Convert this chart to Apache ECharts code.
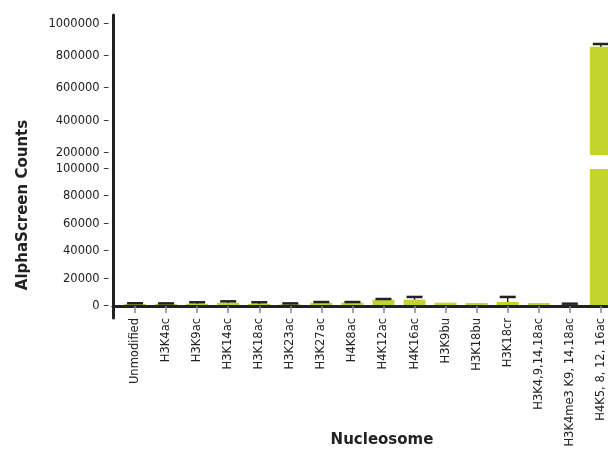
<!DOCTYPE html>
<html><head><meta charset="utf-8">
<script src="https://cdn.jsdelivr.net/npm/echarts@6/dist/echarts.min.js"></script>
<style>html,body{margin:0;padding:0;background:#fff}#c{width:608px;height:449px}</style>
</head><body><div id="c"></div>
<script>
const categories = ['Unmodified','H3K4ac','H3K9ac','H3K14ac','H3K18ac','H3K23ac','H3K27ac','H4K8ac','H4K12ac','H4K16ac','H3K9bu','H3K18bu','H3K18cr','H3K4,9,14,18ac','H3K4me3 K9, 14,18ac','H4K5, 8, 12, 16ac'];
const values = [1500, 1500, 1600, 2400, 1500, 1200, 2400, 2600, 4600, 4600, 2400, 2200, 2900, 2200, 900, 859000];
const errors = [500, 400, 1100, 1000, 1200, 700, 500, 300, 500, 2000, 0, 0, 3700, 0, 800, 17000];
const lowTicks = [0, 20000, 40000, 60000, 80000, 100000];
const highTicks = [200000, 400000, 600000, 800000, 1000000];
const BREAK_LOW = 100000;

const FONT = 'DejaVu Sans';
const idx = categories.map((c, i) => i);
const lowBars = values.map((v, i) => [i, Math.min(v, BREAK_LOW)]);
const highBars = values.map((v, i) => [i, v]);
const errData = values.map((v, i) => [i, v, errors[i]]);

function renderErr(params, api) {
  const x = api.value(0), v = api.value(1), e = api.value(2);
  if (!e) return null;
  const p0 = api.coord([x, v]);
  const p1 = api.coord([x, v + e]);
  const hw = 8;
  return {type: 'group', children: [
    {type: 'line', shape: {x1: p0[0], y1: p0[1], x2: p1[0], y2: p1[1]}, style: {stroke: '#222', lineWidth: 1.5}},
    {type: 'line', shape: {x1: p1[0] - hw, y1: p1[1], x2: p1[0] + hw, y2: p1[1]}, style: {stroke: '#222', lineWidth: 2.5}}
  ]};
}

const xMin = -0.71, xMax = 15.23;
const chart = echarts.init(document.getElementById('c'), null, {renderer: 'canvas'});
const yLabel = {
  fontFamily: FONT, fontSize: 11.5, color: '#222', margin: 4,
  formatter: v => v + ' \u2013'
};
chart.setOption({
  animation: false,
  backgroundColor: '#fff',
  grid: [
    {left: 113, right: 0, top: 15, height: 140, containLabel: false, outerBoundsMode: 'none'},
    {left: 113, right: 0, top: 155, height: 163, containLabel: false, outerBoundsMode: 'none'}
  ],
  xAxis: [
    {gridIndex: 0, type: 'value', min: xMin, max: xMax, show: false},
    {gridIndex: 1, type: 'value', min: xMin, max: xMax, z: 10,
     splitLine: {show: false},
     axisLine: {show: true, onZero: true, lineStyle: {color: '#222', width: 3}},
     axisTick: {show: true, customValues: idx, length: 7, lineStyle: {color: '#888', width: 1.5}},
     axisLabel: {customValues: idx, rotate: 90, margin: 0, fontFamily: FONT, fontSize: 11.5, color: '#222',
                 formatter: v => categories[Math.round(v)]}
    }
  ],
  yAxis: [
    {gridIndex: 0, type: 'value', min: 187597, max: 1055814, splitLine: {show: false},
     axisLine: {show: true, onZero: false, lineStyle: {color: '#222', width: 3}},
     axisTick: {show: false},
     axisLabel: Object.assign({}, yLabel, {customValues: highTicks})},
    {gridIndex: 1, type: 'value', min: -8759, max: 110219, splitLine: {show: false},
     axisLine: {show: true, onZero: false, lineStyle: {color: '#222', width: 3}},
     axisTick: {show: false},
     axisLabel: Object.assign({}, yLabel, {customValues: lowTicks})}
  ],
  graphic: [{
    type: 'text', x: 23, y: 205, rotation: Math.PI / 2,
    style: {text: 'AlphaScreen Counts', fontFamily: FONT, fontSize: 15, fontWeight: 'bold', fill: '#222',
            align: 'center', verticalAlign: 'middle'}
  }, {
    type: 'text', x: 382, y: 440,
    style: {text: 'Nucleosome', fontFamily: FONT, fontSize: 15, fontWeight: 'bold', fill: '#222',
            align: 'center', verticalAlign: 'middle'}
  }],
  series: [
    {type: 'bar', xAxisIndex: 0, yAxisIndex: 0, data: highBars, barWidth: 22, clip: true,
     itemStyle: {color: '#c3d32f'}},
    {type: 'bar', xAxisIndex: 1, yAxisIndex: 1, data: lowBars, barWidth: 22, clip: true,
     itemStyle: {color: '#c3d32f'}},
    {type: 'custom', xAxisIndex: 0, yAxisIndex: 0, data: errData, renderItem: renderErr, clip: true, z: 5},
    {type: 'custom', xAxisIndex: 1, yAxisIndex: 1, data: errData, renderItem: renderErr, clip: true, z: 5}
  ]
});
</script></body></html>
